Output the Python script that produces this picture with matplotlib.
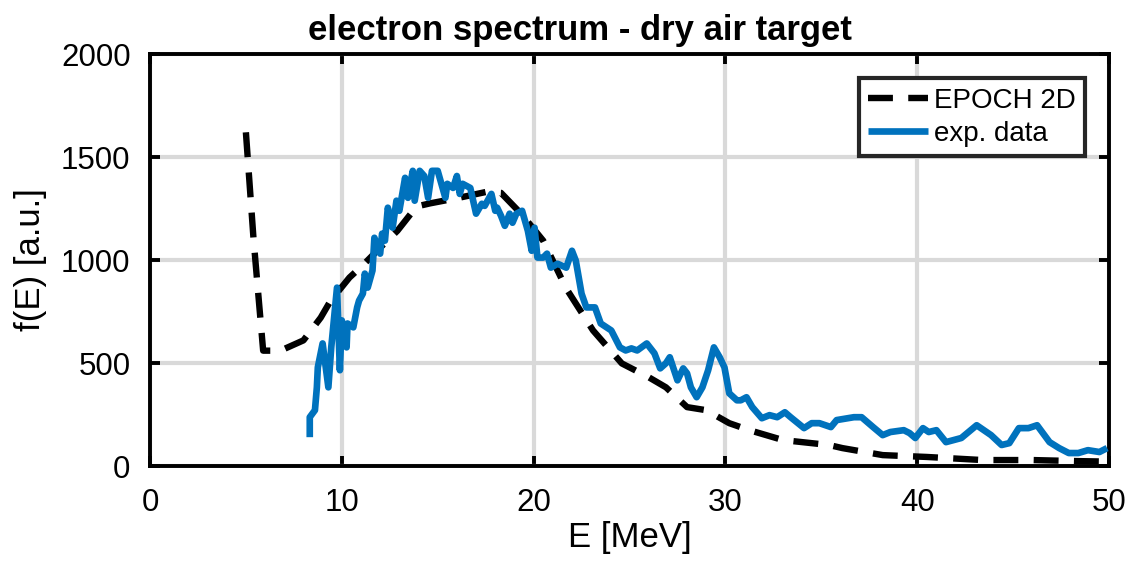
import matplotlib
matplotlib.use('Agg')
import matplotlib.pyplot as plt
import numpy as np

# EPOCH 2D simulated spectrum
sim_E = [5.0, 5.4, 5.9, 6.8, 8.0, 8.9, 9.4, 10.4, 11.1, 12.0, 12.9, 13.9, 14.6,
         16.0, 17.5, 18.3, 19.4, 20.5, 21.7, 23.1, 24.6, 26.0, 26.9, 28.0, 29.0,
         30.2, 31.25, 33.0, 35.4, 36.1, 38.2, 40.5, 43.4, 46.0, 48.3, 49.6]
sim_f = [1620, 1100, 560, 560, 610, 720, 800, 915, 975, 1060, 1142, 1260, 1275,
         1300, 1330, 1326, 1220, 1094, 862, 658, 498, 431, 382, 286, 271,
         208, 174, 126, 102, 87, 53, 44, 29, 29, 24, 22]

# measured spectrum
exp_E = [8.33, 8.33, 8.6, 8.7, 8.75, 9.0, 9.3, 9.45, 9.75, 9.9, 10.0, 10.25, 10.3,
         10.6, 10.8, 10.9, 11.1, 11.2, 11.35, 11.6, 11.7, 12.0, 12.1, 12.25, 12.4,
         12.65, 12.85, 13.0, 13.3, 13.45, 13.6, 13.7, 13.8, 14.06, 14.3, 14.5, 14.7,
         15.0, 15.4, 15.5, 15.8, 16.0, 16.15, 16.3, 16.7, 17.0, 17.3, 17.45, 17.8,
         18.0, 18.1, 18.3, 18.5, 18.75, 18.9, 19.1, 19.4, 19.7, 19.9, 20.05, 20.2,
         20.5, 20.7, 20.9, 21.25, 21.7, 22.0, 22.2, 22.5, 22.75, 23.2, 23.5, 24.05,
         24.5, 24.8, 25.1, 25.4, 25.9, 26.3, 26.6, 26.9, 27.1, 27.5, 27.8, 28.0,
         28.2, 28.5, 28.8, 29.1, 29.4, 29.7, 29.95, 30.2, 30.6, 30.8, 31.1, 31.4,
         31.9, 32.3, 32.7, 33.1, 33.4, 34.1, 34.5, 34.9, 35.5, 35.8, 36.7, 37.1,
         37.7, 38.2, 38.6, 39.3, 39.6, 39.9, 40.3, 40.6, 41.0, 41.5, 42.3, 43.1,
         43.85, 44.4, 44.8, 45.3, 45.8, 46.25, 46.9, 47.4, 47.9, 48.4, 48.9, 49.5,
         49.9]
exp_f = [140, 237, 271, 382, 479, 595, 382, 576, 866, 465, 707, 576, 692,
         673, 770, 803, 837, 934, 866, 949, 1108, 1031, 1128, 1094, 1254,
         1157, 1288, 1239, 1399, 1302, 1384, 1433, 1288, 1433, 1408, 1302, 1433,
         1433, 1302, 1370, 1350, 1408, 1321, 1370, 1350, 1225, 1273, 1263, 1321,
         1239, 1254, 1215, 1166, 1225, 1181, 1225, 1239, 1142, 1045, 1157, 1012,
         1012, 1031, 963, 982, 963, 1045, 997, 837, 770, 770, 692, 658,
         576, 561, 571, 561, 595, 547, 474, 499, 528, 416, 474, 450,
         382, 334, 382, 465, 576, 528, 479, 353, 319, 319, 334, 286,
         232, 247, 237, 261, 237, 184, 208, 208, 189, 223, 237, 237,
         189, 150, 165, 174, 160, 136, 184, 165, 174, 116, 136, 198,
         150, 102, 111, 184, 184, 198, 116, 87, 63, 63, 77, 68,
         87]

plt.rcParams['font.family'] = ['Liberation Sans', 'DejaVu Sans']

fig = plt.figure(figsize=(11.32, 5.61), dpi=100)
ax = fig.add_axes([0.1325, 0.1693, 0.8472, 0.7344])

ax.plot(sim_E, sim_f, color='black', lw=4.6, dashes=(3.9, 2.4),
        label='EPOCH 2D', zorder=3)
ax.plot(exp_E, exp_f, color='#0072BD', lw=4.8, label='exp. data',
        solid_joinstyle='round', solid_capstyle='butt', zorder=4)

ax.set_xlim(0, 50)
ax.set_ylim(0, 2000)
ax.set_xticks([0, 10, 20, 30, 40, 50])
ax.set_yticks([0, 500, 1000, 1500, 2000])
ax.grid(True, color='#d9d9d9', lw=3.0)
ax.set_axisbelow(True)
for sp in ax.spines.values():
    sp.set_linewidth(2.8)
ax.tick_params('both', direction='in', length=7, width=2.8, labelsize=22.5,
               top=True, right=True)
ax.tick_params('y', pad=14)
ax.tick_params('x', pad=16)

ax.set_xlabel('E [MeV]', fontsize=25, labelpad=2)
ax.set_ylabel('f(E) [a.u.]', fontsize=25, labelpad=10)
ax.set_title('electron spectrum - dry air target', fontsize=25,
             fontweight='bold', pad=10, x=0.448)

leg = ax.legend(loc='upper right', fontsize=20, frameon=True, fancybox=False,
                handlelength=2.15, handletextpad=0.2, borderpad=0.35,
                labelspacing=0.25, borderaxespad=0,
                bbox_to_anchor=(0.975, 0.942))
leg.get_frame().set_edgecolor('#262626')
leg.get_frame().set_linewidth(3.0)
leg.get_frame().set_alpha(1)

fig.savefig('out.png', dpi=100)
